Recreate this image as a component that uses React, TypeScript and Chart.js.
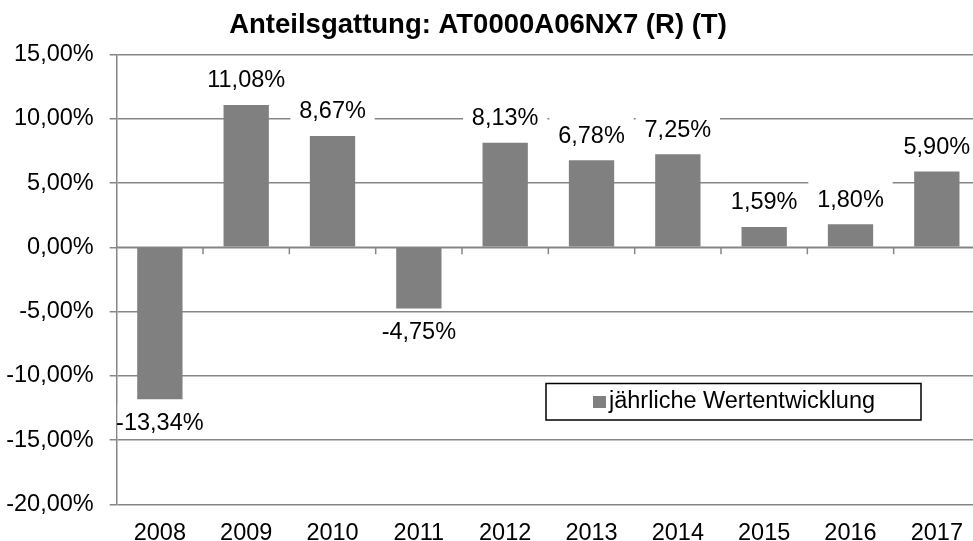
import React, { useEffect, useRef } from "react";
import { Chart, registerables } from "chart.js";

Chart.register(...registerables);

const titleText = "Anteilsgattung: AT0000A06NX7 (R) (T)";
const seriesName = "jährliche Wertentwicklung";
const categories = ["2008", "2009", "2010", "2011", "2012", "2013", "2014", "2015", "2016", "2017"];
const values = [-11.81, 11.08, 8.67, -4.75, 8.13, 6.78, 7.25, 1.59, 1.8, 5.9];
const valueLabels = ["-13,34%", "11,08%", "8,67%", "-4,75%", "8,13%", "6,78%", "7,25%", "1,59%", "1,80%", "5,90%"];
const yMin = -20;
const yMax = 15;
const yStep = 5;

const FONT = "'Liberation Sans', Arial, sans-serif";
const FS = 23.5;
const GRID = "#868686";
const BAR = "#808080";

const fmtPct = (v: number) => v.toFixed(2).replace(".", ",") + "%";

const decorPlugin = {
  id: "decor",
  beforeDatasetsDraw(chart: any) {
    const { ctx, chartArea } = chart;
    const xs = chart.scales.x;
    const ys = chart.scales.y;
    const y0 = ys.getPixelForValue(0);
    ctx.save();
    ctx.strokeStyle = GRID;
    ctx.lineWidth = 1.5;
    ctx.beginPath();
    ctx.moveTo(chartArea.left, y0);
    ctx.lineTo(chartArea.right, y0);
    for (let i = 0; i < categories.length - 1; i++) {
      const bx = (xs.getPixelForValue(i) + xs.getPixelForValue(i + 1)) / 2;
      ctx.moveTo(bx, y0);
      ctx.lineTo(bx, y0 + 7);
    }
    ctx.stroke();
    ctx.restore();
  },
  afterDatasetsDraw(chart: any) {
    const { ctx } = chart;
    const xs = chart.scales.x;
    const meta = chart.getDatasetMeta(0);
    const catW = xs.getPixelForValue(1) - xs.getPixelForValue(0);
    ctx.save();
    ctx.font = `${FS}px ${FONT}`;
    ctx.textAlign = "center";
    ctx.textBaseline = "middle";
    meta.data.forEach((bar: any, i: number) => {
      const v = values[i];
      const cy = v >= 0 ? bar.y - 24 : bar.y + 24;
      const left = bar.x - catW / 2 + 1;
      ctx.fillStyle = "#ffffff";
      ctx.fillRect(left, cy - 19, catW - 2, 33);
      ctx.fillStyle = "#000000";
      ctx.fillText(valueLabels[i], bar.x, cy);
    });
    ctx.restore();
  },
  afterDraw(chart: any) {
    const { ctx } = chart;
    ctx.save();
    // title
    ctx.font = `bold 27.5px ${FONT}`;
    ctx.fillStyle = "#000000";
    ctx.textAlign = "center";
    ctx.textBaseline = "middle";
    ctx.fillText(titleText, 478, 25);
    // legend
    ctx.fillStyle = "#ffffff";
    ctx.fillRect(546, 383.5, 375, 36.5);
    ctx.strokeStyle = "#000000";
    ctx.lineWidth = 1.5;
    ctx.strokeRect(546, 383.5, 375, 36.5);
    ctx.fillStyle = BAR;
    ctx.fillRect(593, 396, 13, 12);
    ctx.fillStyle = "#000000";
    ctx.font = `${FS}px ${FONT}`;
    ctx.textAlign = "left";
    ctx.fillText(seriesName, 609, 402);
    ctx.restore();
  },
};

export default function App() {
  const ref = useRef<HTMLCanvasElement | null>(null);

  useEffect(() => {
    if (!ref.current) return;
    const chart = new Chart(ref.current, {
      type: "bar",
      data: {
        labels: categories,
        datasets: [
          {
            label: seriesName,
            data: values,
            backgroundColor: BAR,
            borderWidth: 0,
            barPercentage: 0.525,
            categoryPercentage: 1,
          },
        ],
      },
      options: {
        animation: false,
        responsive: false,
        devicePixelRatio: 1,
        layout: { padding: { left: 0, right: 0, top: 54.5, bottom: 0 } },
        plugins: {
          legend: { display: false },
          title: { display: false },
          tooltip: { enabled: false },
        },
        scales: {
          x: {
            grid: { display: false, drawTicks: false },
            border: { display: false },
            ticks: {
              color: "#000000",
              font: { family: FONT, size: FS },
              padding: 15,
              maxRotation: 0,
              autoSkip: false,
            },
            afterFit(scale: any) {
              scale.height = 36.5;
            },
          },
          y: {
            min: yMin,
            max: yMax,
            grid: { color: GRID, lineWidth: 1.5, tickLength: 7, drawTicks: true },
            border: { color: GRID, width: 1.5 },
            ticks: {
              stepSize: yStep,
              color: "#000000",
              font: { family: FONT, size: FS },
              padding: 16,
              callback: (v: any) => fmtPct(Number(v)),
            },
            afterFit(scale: any) {
              scale.width = 116.7;
            },
          },
        },
      },
      plugins: [decorPlugin],
    });
    return () => chart.destroy();
  }, []);

  return (
    <div
      style={{
        position: "fixed",
        left: 0,
        top: 0,
        width: 973,
        height: 541,
        overflow: "hidden",
        background: "#ffffff",
      }}
    >
      <canvas ref={ref} width={980} height={541} style={{ display: "block", width: 980, height: 541 }} />
    </div>
  );
}
